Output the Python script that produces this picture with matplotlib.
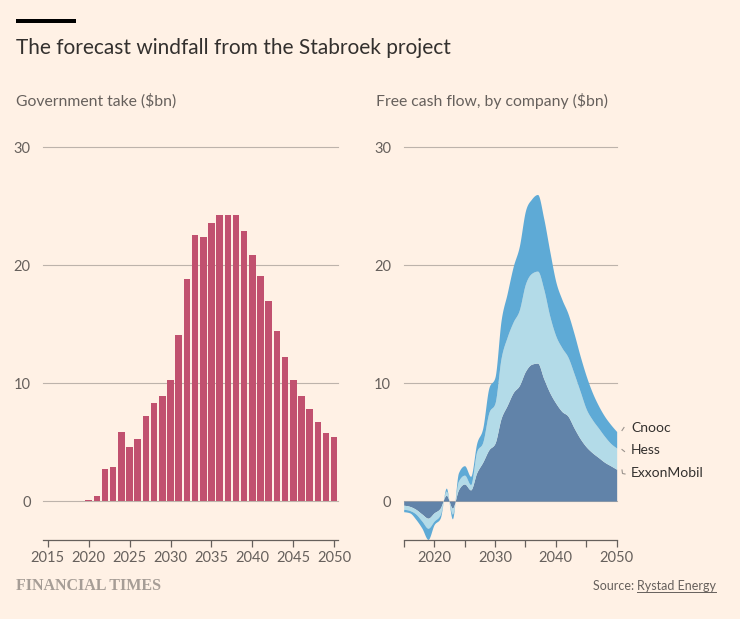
import numpy as np
import matplotlib
matplotlib.use("Agg")
import matplotlib.pyplot as plt
from matplotlib.patches import Rectangle
from matplotlib.lines import Line2D

# ---------------- data ----------------
gov_years = list(range(2020, 2051))
gov_take = [0.1, 0.4, 2.7, 2.85, 5.85, 4.6, 5.25, 7.2, 8.3, 8.95,
            10.25, 14.05, 18.8, 22.55, 22.4, 23.6, 24.3, 24.3, 24.3, 22.9,
            20.9, 19.05, 17.0, 14.4, 12.2, 10.25, 8.95, 7.8, 6.7, 5.8, 5.45]

fcf_years = list(range(2015, 2051))
exxon = [-0.35, -0.45, -0.7, -1.1, -1.45, -1.0, -0.6, 0.5, -0.6, 0.95,
         1.45, 0.95, 2.4, 3.3, 4.35, 4.9, 7.0, 8.1, 9.2, 9.8,
         11.0, 11.6, 11.7, 10.4, 9.2, 8.3, 7.6, 7.2, 6.2, 5.3,
         4.6, 4.1, 3.7, 3.3, 3.0, 2.7]
hess = [-0.35, -0.35, -0.4, -0.6, -0.85, -0.7, -0.55, 0.35, -0.5, 0.75,
        0.75, 0.45, 1.8, 1.7, 3.15, 3.4, 5.1, 5.8, 6.0, 6.4,
        7.4, 7.7, 7.8, 7.6, 6.5, 5.7, 5.4, 5.0, 4.6, 4.0,
        3.2, 2.8, 2.5, 2.2, 1.9, 1.8]
cnooc = [-0.2, -0.2, -0.45, -0.6, -0.95, -0.3, -0.3, 0.25, -0.4, 0.7,
         0.8, 0.7, 0.7, 1.2, 2.1, 2.2, 3.2, 3.7, 4.7, 5.4,
         6.2, 6.3, 6.5, 6.0, 5.5, 4.6, 4.1, 3.7, 3.4, 3.0,
         2.8, 2.3, 1.9, 1.7, 1.6, 1.4]
companies = ["ExxonMobil", "Hess", "Cnooc"]

left_xticks = [2015, 2020, 2025, 2030, 2035, 2040, 2045, 2050]
right_xticks = [2015, 2020, 2025, 2030, 2035, 2040, 2045, 2050]
right_xlabels = ["", "2020", "", "2030", "", "2040", "", "2050"]
yticks = [0, 10, 20, 30]

# ---------------- style ----------------
BG = "#fff1e5"
TXT = "#33302e"
TICK = "#66605c"
GRID = "#bdb3ab"
BAR = "#c1516f"
C_EXX = "#6183a9"
C_HESS = "#b3dbe8"
C_CNOOC = "#5eaad6"
FONT = "Lato"

W, H = 740, 619
fig = plt.figure(figsize=(W / 100, H / 100), dpi=100, facecolor=BG)


def fx(px):
    return px / W


def fy(py):
    return 1 - py / H


def monotone(x, y, n=24):
    x = np.asarray(x, float)
    y = np.asarray(y, float)
    h = np.diff(x)
    s = np.diff(y) / h
    t = np.zeros_like(y)
    for i in range(1, len(y) - 1):
        p = (s[i - 1] * h[i] + s[i] * h[i - 1]) / (h[i - 1] + h[i])
        t[i] = (np.sign(s[i - 1]) + np.sign(s[i])) * min(abs(s[i - 1]), abs(s[i]), 0.5 * abs(p))
    t[0] = (3 * s[0] - t[1]) / 2
    t[-1] = (3 * s[-1] - t[-2]) / 2
    xs, ys = [], []
    for i in range(len(h)):
        u = np.linspace(0, 1, n, endpoint=False)
        h00 = 2 * u**3 - 3 * u**2 + 1
        h10 = u**3 - 2 * u**2 + u
        h01 = -2 * u**3 + 3 * u**2
        h11 = u**3 - u**2
        xs.append(x[i] + u * h[i])
        ys.append(h00 * y[i] + h10 * h[i] * t[i] + h01 * y[i + 1] + h11 * h[i] * t[i + 1])
    xs.append([x[-1]])
    ys.append([y[-1]])
    return np.concatenate(xs), np.concatenate(ys)


y_top, y_bot = 147.3, 540.0
ax_b = fy(y_bot)
ax_h = (y_bot - y_top) / H
YMIN = -3.3


def style_axis(ax, xlim):
    ax.set_facecolor(BG)
    ax.set_xlim(*xlim)
    ax.set_ylim(YMIN, 30)
    for sp in ["top", "right", "left"]:
        ax.spines[sp].set_visible(False)
    ax.spines["bottom"].set_color(TICK)
    ax.spines["bottom"].set_linewidth(0.9)
    ax.set_yticks(yticks)
    ax.tick_params(axis="y", length=0, pad=9, labelsize=10.5, labelcolor=TICK)
    ax.tick_params(axis="x", length=5, width=0.9, color=TICK, pad=3,
                   labelsize=10.5, labelcolor=TICK, direction="out")
    for v in yticks:
        ax.axhline(v, color=GRID, lw=0.8, zorder=0, clip_on=False)


# ---------------- left: bars ----------------
axL = fig.add_axes([fx(43.3), ax_b, (338.3 - 43.3) / W, ax_h])
style_axis(axL, (2014.46, 2050.5))
axL.bar(gov_years, gov_take, width=0.8, color=BAR, zorder=2, linewidth=0)
axL.set_xticks(left_xticks)
axL.set_xticklabels([str(v) for v in left_xticks], fontfamily=FONT)
axL.set_yticklabels([str(v) for v in yticks], fontfamily=FONT)

# ---------------- right: stacked areas ----------------
axR = fig.add_axes([fx(403.67), ax_b, (616.67 - 403.67) / W, ax_h])
style_axis(axR, (2015, 2050))
e = np.array(exxon)
h_ = np.array(hess)
c = np.array(cnooc)
b1 = e
b2 = e + h_
b3 = e + h_ + c
xs, s1 = monotone(fcf_years, b1)
_, s2 = monotone(fcf_years, b2)
_, s3 = monotone(fcf_years, b3)
zero = np.zeros_like(xs)
axR.fill_between(xs, zero, s1, color=C_EXX, lw=0, zorder=2)
axR.fill_between(xs, s1, s2, color=C_HESS, lw=0, zorder=2)
axR.fill_between(xs, s2, s3, color=C_CNOOC, lw=0, zorder=2)
axR.set_xticks(right_xticks)
axR.set_xticklabels(right_xlabels, fontfamily=FONT)
axR.set_yticklabels([str(v) for v in yticks], fontfamily=FONT)

# series labels
label_y = {"Cnooc": 428.5, "Hess": 450.5, "ExxonMobil": 473}
for name in companies:
    fig.text(fx(631), fy(label_y[name]), name, fontsize=10, color=TXT,
             fontfamily=FONT, va="center", ha="left")
# tiny leader marks
fig.add_artist(Line2D([fx(622), fx(624)], [fy(430.5), fy(427.5)], color="#9a938d", lw=0.8))
fig.add_artist(Line2D([fx(622), fx(624.5)], [fy(449.5), fy(451.5)], color="#9a938d", lw=0.8))
fig.add_artist(Line2D([fx(622), fx(622.5), fx(625)], [fy(470), fy(473.5), fy(474)],
                      color="#9a938d", lw=0.8))

# ---------------- titles / furniture ----------------
fig.add_artist(Rectangle((fx(16), fy(23)), fx(60), 4 / H, color="#000000", lw=0))
fig.text(fx(16), fy(54.5), "The forecast windfall from the Stabroek project",
         fontsize=15, color=TXT, fontfamily=FONT, va="baseline", ha="left")
fig.text(fx(16), fy(106), "Government take ($bn)", fontsize=11.3, color=TICK,
         fontfamily=FONT, va="baseline", ha="left")
fig.text(fx(376), fy(106), "Free cash flow, by company ($bn)", fontsize=11.3, color=TICK,
         fontfamily=FONT, va="baseline", ha="left")
fig.text(fx(16), fy(589.5), "FINANCIAL TIMES", fontsize=11.5, color="#a69d96",
         fontfamily="Liberation Serif", fontweight="bold", va="baseline", ha="left")

src2 = fig.text(fx(716), fy(589.5), "Rystad Energy", fontsize=9, color=TICK,
                fontfamily=FONT, va="baseline", ha="right")
fig.canvas.draw()
r = fig.canvas.get_renderer()
bb = src2.get_window_extent(renderer=r)
x0 = bb.x0
fig.text(x0 / W, fy(589.5), "Source: ", fontsize=9, color=TICK,
         fontfamily=FONT, va="baseline", ha="right")
uy = fy(591.5)
fig.add_artist(Line2D([bb.x0 / W, bb.x1 / W], [uy, uy], color=TICK, lw=0.7))

fig.savefig("out.png", dpi=100, facecolor=BG)
